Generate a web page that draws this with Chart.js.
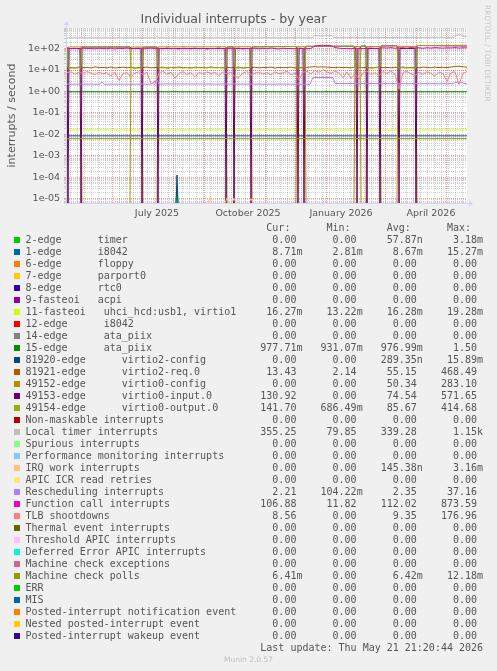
<!DOCTYPE html>
<html>
<head>
<meta charset="utf-8">
<title>Individual interrupts - by year</title>
<script src="https://cdn.jsdelivr.net/npm/chart.js@4.4.1/dist/chart.umd.min.js"></script>
<style>
  html, body { margin: 0; padding: 0; background: #f0f0f0; }
  #wrap { position: relative; width: 497px; height: 671px; overflow: hidden; }
  #chart { position: absolute; left: 0; top: 0; }
  #legend { position: absolute; left: 0; top: 222px; width: 497px; }
  .row { position: absolute; left: 0; width: 497px; height: 12px; }
  .swatch { position: absolute; left: 14px; top: 3px; width: 6px; height: 6px; }
  .txt { position: absolute; left: 25.5px; top: 0; font: 10px/12px "DejaVu Sans Mono", monospace; color: #555; white-space: pre; }
  #rrd { position: absolute; left: 483px; top: 5px; writing-mode: vertical-rl; font: 7.5px/9px "DejaVu Sans", sans-serif; color: #c8c8c8; }
  #munin { position: absolute; left: 0; width: 497px; top: 655px; text-align: center; font: 7.5px/10px "DejaVu Sans", sans-serif; color: #c0c0c0; }
</style>
</head>
<body>
<div id="wrap">
  <canvas id="chart" width="497" height="225"></canvas>
  <div id="rrd">RRDTOOL / TOBI OETIKER</div>
  <div id="legend"></div>
  <div id="munin">Munin 2.0.57</div>
</div>
<script>
// x values are days since 17 Apr 2025 (left edge of the graph)
var sampleDays = [0,4,8,12,16,20,24,28,32,36,40,44,48,52,56,60,64,68,72,76,80,84,88,92,96,100,104,108,112,116,120,124,128,132,136,140,144,148,152,156,160,164,168,172,176,180,184,188,192,196,200,204,208,212,216,220,224,228,232,236,240,244,248,252,256,260,264,268,272,276,280,284,288,292,296,300,304,308,312,316,320,324,328,332,336,340,344,348,352,356,360,364,368,372,376,380,384,388,392,396,400];

var tlbShootdowns = [7.5,8.2,6.4,7.8,6.9,8.5,7.1,5.9,8.0,6.6, 7.4,5.2,7.9,3.2,6.8,7.6,4.6,7.2,8.3,6.1, 7.7,2.3,2.2,7.4,8.6,6.3,7.9,4.1,7.0,8.4, 6.2,7.5,4.8,7.8,6.5,8.1,6.9,7.7,5.6,8.2, 6.7,7.9,4.9,4.6,7.3,8.4,5.8,7.1,8.0,6.4, 7.6,5.9,8.3,6.8,7.4,8.7,6.0,7.2,3.5,7.9, 8.8,6.6,9.4,7.8,10.2,8.1,6.9,9.0,7.3,4.3, 8.2,4.0,6.5,3.7,7.7,8.9,6.2,7.5,5.4,8.6, 7.0,9.1,6.4,1.3,7.8,8.5,6.7,5.5,7.9,6.3, 8.4,7.1,5.0,8.0,6.8,2.9,7.6,8.3,2.1,6.9, 8.56];
var virtio2Req = [12.5,13.1,12.2,13.6,12.8,13.3,12.4,13.9,12.9,13.2, 12.6,13.8,12.3,13.0,13.5,12.7,13.4,12.1,13.2,12.9, 13.7,12.5,13.1,12.8,13.6,12.2,13.3,12.9,13.8,12.6, 13.0,12.4,13.5,12.9,13.2,12.6,13.9,12.8,13.1,12.5, 13.4,12.7,13.0,13.6,12.3,13.2,12.8,13.5,12.6,13.1, 12.9,13.7,12.4,13.3,12.8,13.0,13.6,12.5,13.2,12.7, 13.4,13.9,14.2,13.8,14.1,13.6,13.2,12.8,13.5,12.9, 13.3,12.6,13.7,13.0,12.8,13.4,12.5,13.1,13.6,12.9, 13.2,12.7,13.5,12.9,13.8,12.6,13.3,13.0,12.8,13.5, 13.1,12.7,13.6,13.0,13.4,12.9,13.8,14.6,15.0,14.2, 13.43];
var functionCalls = [104,98,102,96,105,99,101,97,103,100, 98,104,95,102,99,106,97,101,103,96, 100,104,98,102,97,105,99,101,96,103, 100,97,104,98,102,95,101,99,105,97, 102,98,100,104,96,101,99,103,97,102, 98,105,100,96,103,99,101,97,104,100, 98,103,132,138,135,140,134,112,104,99, 102,97,105,100,98,103,106,101,104,108, 105,110,103,107,109,104,111,106,108,103, 109,105,110,107,104,108,106,110,105,108, 106.88];

// virtio0 vectors: output / config swap levels after each restart, input drops to zero
var virtio0Days = [0,1,14,15,63,64,75,76,90,91,159,160,167,168,184,185,229,230,238,239,287,288,293,294,299,300,313,314,330,331,349,350,400];
var virtio0Output = [116,12.5,12.8,117,118,12.6,12.4,116,117,12.7,12.9,118,119,12.5,12.8,120,124,12.6,12.7,126,128,12.8,12.6,129,130,12.4,12.9,132,134,12.7,12.5,138,141.7];
var virtio0Config = [0,118,119,0,0,118,117,0,0,119,120,0,0,121,120,0,0,122,121,0,0,123,122,0,0,124,125,0,0,126,125,0,0];
var virtio0InputDays = [0,1,2,13,14,15,63,64,74,75,76,90,91,92,158,159,160,166,167,168,183,184,185,229,230,231,232,236,237,238,239,287,288,289,290,291,293,294,299,300,301,312,313,314,330,331,332,333,348,349,350,400];
var virtio0Input = [116,0,100,100,0,117,118,100,100,0,116,117,0,100,100,0,118,119,0,100,100,0,120,124,100,0,100,100,0,100,126,128,100,100,0,100,100,129,130,0,100,100,0,132,134,100,0,100,100,0,138,130.92];

var reschedDays = [0,33,35,37,84,90,92,243,246,266,268,386,389,396,400];
var rescheduling = [2.2,2.2,2.7,2.2,2.2,3.5,2.25,2.2,4.5,4.5,2.35,2.3,2.7,2.5,2.21];
var localTimerDays = [0,88,90,92,245,247,265,267,387,390,394,397,400];
var localTimer = [315,315,360,315,318,390,390,322,330,430,430,352,355.25];

var flatDays = [0,400];
var ataPiix15 = [0.977,0.977];
var i8042Edge1 = [0.00867,0.00867];
var uhciVirtio1 = [0.01628,0.01628];
var mcePolls = [0.00642,0.00642];
var spikeDays = [109,110,111];
var virtio2Config = [0,0.00013,0];
var timerEdge2 = [0,0.00003,0];
var irqWorkDays = [141,143,145,158,160,162,165,167,169,182,184,186];
var irqWork = [0,0.000012,0,0,0.000011,0,0,0.000011,0,0,0.0000105,0];

// legend
var seriesNames = ['2-edge      timer','1-edge      i8042','6-edge      floppy','7-edge      parport0','8-edge      rtc0','9-fasteoi   acpi','11-fasteoi   uhci_hcd:usb1, virtio1','12-edge      i8042','14-edge      ata_piix','15-edge      ata_piix','81920-edge      virtio2-config','81921-edge      virtio2-req.0','49152-edge      virtio0-config','49153-edge      virtio0-input.0','49154-edge      virtio0-output.0','Non-maskable interrupts','Local timer interrupts','Spurious interrupts','Performance monitoring interrupts','IRQ work interrupts','APIC ICR read retries','Rescheduling interrupts','Function call interrupts','TLB shootdowns','Thermal event interrupts','Threshold APIC interrupts','Deferred Error APIC interrupts','Machine check exceptions','Machine check polls','ERR','MIS','Posted-interrupt notification event','Nested posted-interrupt event','Posted-interrupt wakeup event'];
var seriesColors = ['#00CC00','#0066B3','#FF8000','#FFCC00','#330099','#990099','#CCFF00','#FF0000','#808080','#008F00','#00487D','#B35A00','#B38F00','#6B006B','#8FB300','#B30000','#BEBEBE','#80FF80','#80C9FF','#FFC080','#FFE680','#AA80FF','#EE00CC','#FF8080','#666600','#FFBFFF','#00FFCC','#CC6699','#999900','#00CC00','#0066B3','#FF8000','#FFCC00','#330099'];
var curValues = [0,8.71e-3,0,0,0,0,16.27e-3,0,0,977.71e-3,0,13.43,0,130.92,141.70,0,355.25,0,0,0,0,2.21,106.88,8.56,0,0,0,0,6.41e-3,0,0,0,0,0];
var minValues = [0,2.81e-3,0,0,0,0,13.22e-3,0,0,931.07e-3,0,2.14,0,0,686.49e-3,0,79.85,0,0,0,0,104.22e-3,11.82,0,0,0,0,0,0,0,0,0,0,0];
var avgValues = [57.87e-9,8.67e-3,0,0,0,0,16.28e-3,0,0,976.99e-3,289.35e-9,55.15,50.34,74.54,85.67,0,339.28,0,0,145.38e-9,0,2.35,112.02,9.35,0,0,0,0,6.42e-3,0,0,0,0,0];
var maxValues = [3.18e-3,15.27e-3,0,0,0,0,19.28e-3,0,0,1.50,15.89e-3,468.49,283.10,571.65,414.68,0,1.15e3,0,0,3.16e-3,0,37.16,873.59,176.96,0,0,0,0,12.18e-3,0,0,0,0,0];
var lastUpdate = 'Last update: Thu May 21 21:20:44 2026';

var monthStarts = [14,45,75,106,137,167,198,228,259,290,318,349,379];
var quarterDays = [90,181,274,364];
var quarterLabels = ['July 2025','October 2025','January 2026','April 2026'];

var yMin = 6.5e-6;
var yMax = 900;
var axisColor = '#CFD6F8';
var minorGrid = 'rgba(143,143,143,0.42)';
var majorGrid = 'rgba(222,79,79,0.55)';

// which legend entry is drawn from which arrays
var plotted = {
    0: [spikeDays, timerEdge2],
    1: [flatDays, i8042Edge1],
    6: [flatDays, uhciVirtio1],
    9: [flatDays, ataPiix15],
    10: [spikeDays, virtio2Config],
    11: [sampleDays, virtio2Req],
    12: [virtio0Days, virtio0Config],
    13: [virtio0InputDays, virtio0Input],
    14: [virtio0Days, virtio0Output],
    16: [localTimerDays, localTimer],
    19: [irqWorkDays, irqWork],
    21: [reschedDays, rescheduling],
    22: [sampleDays, functionCalls],
    23: [sampleDays, tlbShootdowns],
    28: [flatDays, mcePolls]
};

// a log axis has no zero, so zero rates sit on the bottom edge like rrdtool draws them
function zip(xs, ys) {
    return xs.map(function (x, i) { return {x: x, y: ys[i] > 0 ? ys[i] : yMin}; });
}

function rrdFormat(v) {
    if (v === 0) return '  0.00 ';
    var steps = [[1e3, 'k'], [1, ' '], [1e-3, 'm'], [1e-6, 'u'], [1e-9, 'n']];
    for (var i = 0; i < steps.length; i++) {
        if (v >= steps[i][0]) return (v / steps[i][0]).toFixed(2).padStart(6) + steps[i][1];
    }
    return (v / 1e-9).toFixed(2).padStart(6) + 'n';
}

function addRow(top, text, color) {
    var row = document.createElement('div');
    row.className = 'row';
    row.style.top = top + 'px';
    if (color) {
        var sw = document.createElement('div');
        sw.className = 'swatch';
        sw.style.background = color;
        row.appendChild(sw);
    }
    var t = document.createElement('div');
    t.className = 'txt';
    t.textContent = text;
    row.appendChild(t);
    document.getElementById('legend').appendChild(row);
}

addRow(0, ' '.repeat(40) + 'Cur:' + ' '.repeat(6) + 'Min:' + ' '.repeat(6) + 'Avg:' + ' '.repeat(6) + 'Max:');
seriesNames.forEach(function (name, i) {
    var line = name.padEnd(39) + rrdFormat(curValues[i]) + '   ' + rrdFormat(minValues[i]) + '   ' +
        rrdFormat(avgValues[i]) + '   ' + rrdFormat(maxValues[i]);
    addRow(12 * (i + 1), line, seriesColors[i]);
});
addRow(12 * 35, lastUpdate.padStart(76));

var datasets = seriesNames.map(function (name, i) {
    var src = plotted[i];
    return {
        label: name,
        data: src ? zip(src[0], src[1]) : [],
        borderColor: seriesColors[i],
        backgroundColor: seriesColors[i],
        borderWidth: 1,
        pointRadius: 0,
        tension: 0,
        fill: false,
        order: -i,
        segment: {
            borderColor: function (ctx) {
                return (ctx.p0.parsed.y <= yMin && ctx.p1.parsed.y <= yMin) ? 'rgba(0,0,0,0)' : undefined;
            }
        }
    };
});

var decor = {
    id: 'decor',
    beforeDraw: function (chart) {
        var a = chart.chartArea, ctx = chart.ctx;
        ctx.save();
        ctx.fillStyle = '#ffffff';
        ctx.fillRect(a.left, a.top, a.right - a.left, a.bottom - a.top);
        ctx.restore();
    },
    afterDatasetsDraw: function (chart) {
        var a = chart.chartArea, ctx = chart.ctx;
        ctx.save();
        ctx.strokeStyle = axisColor;
        ctx.fillStyle = axisColor;
        ctx.lineWidth = 1;
        ctx.beginPath();
        ctx.moveTo(a.left - 0.5, a.bottom + 2);
        ctx.lineTo(a.left - 0.5, a.top - 4);
        ctx.moveTo(a.left - 3, a.bottom + 0.5);
        ctx.lineTo(a.right + 3, a.bottom + 0.5);
        ctx.stroke();
        ctx.beginPath();
        ctx.moveTo(a.left - 0.5, a.top - 7);
        ctx.lineTo(a.left - 3.5, a.top - 3);
        ctx.lineTo(a.left + 2.5, a.top - 3);
        ctx.closePath();
        ctx.fill();
        ctx.beginPath();
        ctx.moveTo(a.right + 6, a.bottom + 0.5);
        ctx.lineTo(a.right + 2, a.bottom - 2.5);
        ctx.lineTo(a.right + 2, a.bottom + 3.5);
        ctx.closePath();
        ctx.fill();
        ctx.restore();
    }
};

window.addEventListener('load', function () {
    Chart.defaults.font.family = "'DejaVu Sans', sans-serif";
    var ctx = document.getElementById('chart').getContext('2d');
    new Chart(ctx, {
        type: 'line',
        data: { datasets: datasets },
        options: {
            responsive: false,
            animation: false,
            devicePixelRatio: 1,
            layout: { padding: { left: 0, right: 30, top: 0, bottom: 0 } },
            plugins: {
                legend: { display: false },
                tooltip: { enabled: false },
                title: {
                    display: true,
                    text: 'Individual interrupts - by year',
                    color: '#555',
                    font: { size: 12.5, weight: 'normal' },
                    padding: { top: 12, bottom: 1 }
                }
            },
            scales: {
                x: {
                    type: 'linear',
                    min: 0,
                    max: 400,
                    bounds: 'data',
                    afterFit: function (s) { s.height = 22; },
                    afterBuildTicks: function (s) {
                        var ticks = [];
                        for (var d = 3; d < 400; d += 7) {
                            if (monthStarts.indexOf(d) < 0) ticks.push({value: d, kind: 'minor'});
                        }
                        monthStarts.forEach(function (d) { ticks.push({value: d, kind: 'major'}); });
                        quarterDays.forEach(function (d, i) { ticks.push({value: d, kind: 'label', text: quarterLabels[i]}); });
                        ticks.sort(function (a, b) { return a.value - b.value; });
                        s.ticks = ticks;
                    },
                    ticks: {
                        autoSkip: false,
                        maxRotation: 0,
                        padding: 5,
                        color: '#555',
                        font: { size: 9.5 },
                        callback: function (v, i, ticks) {
                            return ticks[i].kind === 'label' ? ticks[i].text : '';
                        }
                    },
                    grid: {
                        drawTicks: false,
                        color: function (c) {
                            if (!c.tick) return 'rgba(0,0,0,0)';
                            if (c.tick.kind === 'major') return majorGrid;
                            if (c.tick.kind === 'minor') return minorGrid;
                            return 'rgba(0,0,0,0)';
                        }
                    },
                    border: { display: false, dash: [1, 1] }
                },
                y: {
                    type: 'logarithmic',
                    min: yMin,
                    max: yMax,
                    bounds: 'data',
                    afterFit: function (s) { s.width = 67; },
                    afterBuildTicks: function (s) {
                        var ticks = [];
                        for (var e = -6; e <= 2; e++) {
                            for (var m = 1; m <= 9; m++) {
                                var v = m * Math.pow(10, e);
                                if (v >= yMin && v <= yMax) ticks.push({value: v, major: m === 1});
                            }
                        }
                        s.ticks = ticks;
                    },
                    title: {
                        display: true,
                        text: 'interrupts / second',
                        color: '#555',
                        font: { size: 11 },
                        padding: { top: 6, bottom: 0 }
                    },
                    ticks: {
                        autoSkip: false,
                        padding: 4,
                        color: '#555',
                        font: { size: 9.5 },
                        callback: function (v, i, ticks) {
                            if (!ticks[i].major) return '';
                            var e = Math.round(Math.log10(v));
                            return '1e' + (e < 0 ? '-' : '+') + String(Math.abs(e)).padStart(2, '0');
                        }
                    },
                    grid: {
                        drawTicks: true,
                        tickLength: 3,
                        color: function (c) { return c.tick && c.tick.major ? majorGrid : minorGrid; },
                        tickColor: function (c) { return c.tick && c.tick.major ? majorGrid : minorGrid; }
                    },
                    border: { display: false, dash: [1, 1] }
                }
            }
        },
        plugins: [decor]
    });
});
</script>
</body>
</html>
